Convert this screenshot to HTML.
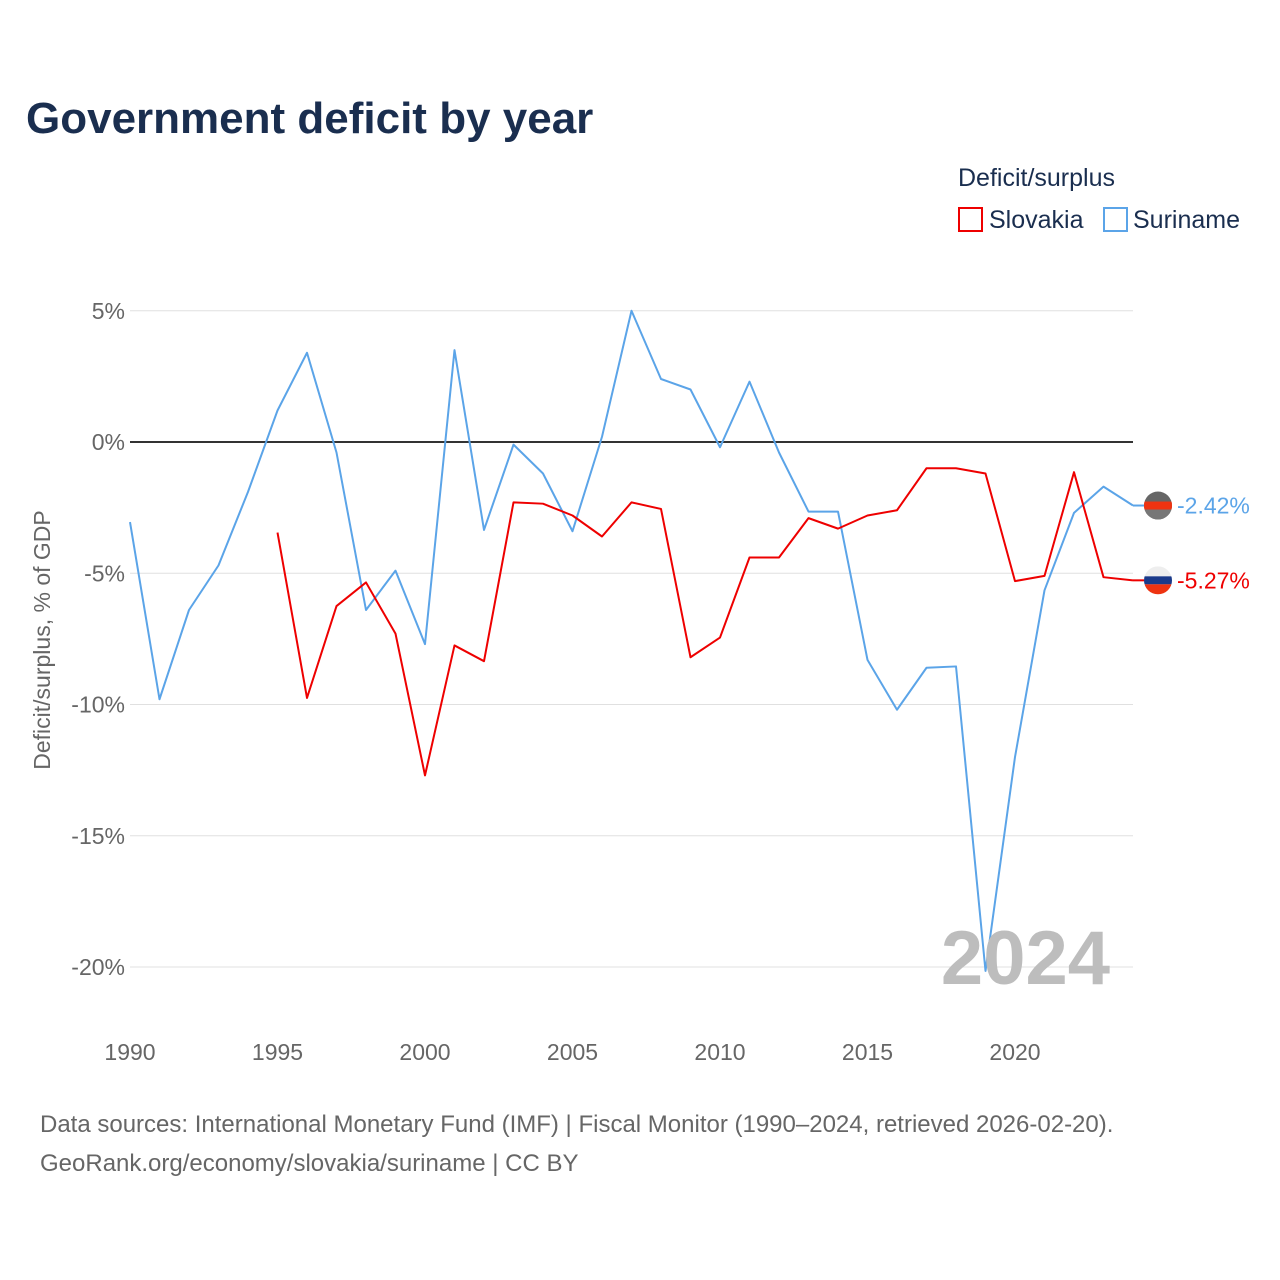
<!DOCTYPE html>
<html><head><meta charset="utf-8">
<style>
body{margin:0;background:#fff;font-family:"Liberation Sans",sans-serif;}
#wrap{position:relative;width:1280px;height:1280px;overflow:hidden;}
</style></head>
<body>
<div id="wrap">
<svg id="chart" width="1280" height="1280" style="position:absolute;left:0;top:0">
<defs id="defs"></defs>
<text x="26" y="133" font-size="44" font-weight="bold" fill="#1a2e4f">Government deficit by year</text>
<text x="958" y="186" font-size="25" fill="#1a2e4f">Deficit/surplus</text>
<g>
<rect x="959" y="208" width="23" height="23" fill="none" stroke="#ee0000" stroke-width="2"/>
<text x="989" y="228" font-size="25" fill="#1a2e4f">Slovakia</text></g>
<g>
<rect x="1104" y="208" width="23" height="23" fill="none" stroke="#5ba4e8" stroke-width="2"/>
<text x="1133" y="228" font-size="25" fill="#1a2e4f">Suriname</text></g>
<text transform="translate(50,640) rotate(-90)" text-anchor="middle" font-size="23" fill="#666">Deficit/surplus, % of GDP</text>
<g id="grid"></g><g id="series"></g>
<text x="1110" y="984" text-anchor="end" font-size="76" font-weight="bold" fill="#bdbdbd">2024</text>
<text x="40" y="1132" font-size="24" fill="#666">Data sources: International Monetary Fund (IMF) | Fiscal Monitor (1990–2024, retrieved 2026-02-20).</text>
<text x="40" y="1171" font-size="24" fill="#666">GeoRank.org/economy/slovakia/suriname | CC BY</text>
</svg>
</div>
<script>
const years=[];for(let y=1990;y<=2024;y++)years.push(y);
const suriname=[-3.05,-9.8,-6.4,-4.7,-1.9,1.2,3.4,-0.4,-6.4,-4.9,-7.7,3.5,-3.35,-0.1,-1.2,-3.4,0.2,5.0,2.4,2.0,-0.2,2.3,-0.4,-2.65,-2.65,-8.3,-10.2,-8.6,-8.55,-20.15,-12.0,-5.65,-2.7,-1.7,-2.42];
const slovakia=[null,null,null,null,null,-3.45,-9.75,-6.25,-5.35,-7.3,-12.7,-7.75,-8.35,-2.3,-2.35,-2.8,-3.6,-2.3,-2.55,-8.2,-7.45,-4.4,-4.4,-2.9,-3.3,-2.8,-2.6,-1.0,-1.0,-1.2,-5.3,-5.1,-1.15,-5.15,-5.27];
const yTicks=[5,0,-5,-10,-15,-20];
const xTicks=[1990,1995,2000,2005,2010,2015,2020];
const NS="http://www.w3.org/2000/svg";
const X=y=>130+(y-1990)*29.5;
const Y=v=>442-v*26.25;
function mk(t,a,p){const e=document.createElementNS(NS,t);for(const k in a)e.setAttribute(k,a[k]);p.appendChild(e);return e;}
const grid=document.getElementById('grid'),ser=document.getElementById('series'),defs=document.getElementById('defs');
yTicks.forEach(v=>{
 const l=mk('line',{x1:130,x2:1133,y1:Y(v),y2:Y(v),stroke:v===0?'#333':'#e0e0e0','stroke-width':v===0?2:1},grid);
 
 
 const t=mk('text',{x:125,y:Y(v)+8,'text-anchor':'end','font-size':23,fill:'#666'},grid);
 t.textContent=v+'%';
 
 
});
xTicks.forEach(v=>{
 const t=mk('text',{x:X(v),y:1060,'text-anchor':'middle','font-size':23,fill:'#666'},grid);
 t.textContent=v;
 
 
});
function line(vals,col,name){
 let d='';vals.forEach((v,i)=>{if(v===null)return;d+=(d?'L':'M')+X(years[i])+','+Y(v);});
 const p=mk('path',{d:d,fill:'none',stroke:col,'stroke-width':2,'stroke-linejoin':'round'},ser);
 
 
}
line(suriname,'#5ba4e8','suriname-line');
line(slovakia,'#ee0000','slovakia-line');
function endLabel(v,col,name,fl,id){
 const cy=Y(v);
 const cp=mk('clipPath',{id:id},defs);
 mk('circle',{cx:1158,cy:cy,r:14},cp);
 const g=mk('g',{},ser);
 
 
 mk('line',{x1:1133,x2:1145,y1:cy,y2:cy,stroke:col,'stroke-width':2},g);
 const f=mk('g',{'clip-path':'url(#'+id+')'},g);
 mk('rect',{x:1144,y:cy-14,width:28,height:28,fill:fl[0]},f);
 mk('rect',{x:1144,y:cy-4,width:28,height:8,fill:fl[1]},f);
 mk('rect',{x:1144,y:cy+4,width:28,height:10,fill:fl[2]},f);
 const t=mk('text',{x:1177,y:cy+8,'font-size':23,fill:col},g);
 t.textContent=v.toFixed(2)+'%';
}
endLabel(suriname[suriname.length-1],'#5ba4e8','suriname-end-label',['#666','#e31','#777'],'clipSr');
endLabel(slovakia[slovakia.length-1],'#ee0000','slovakia-end-label',['#eee','#1a3a8a','#e31'],'clipSk');
</script>
</body></html>
